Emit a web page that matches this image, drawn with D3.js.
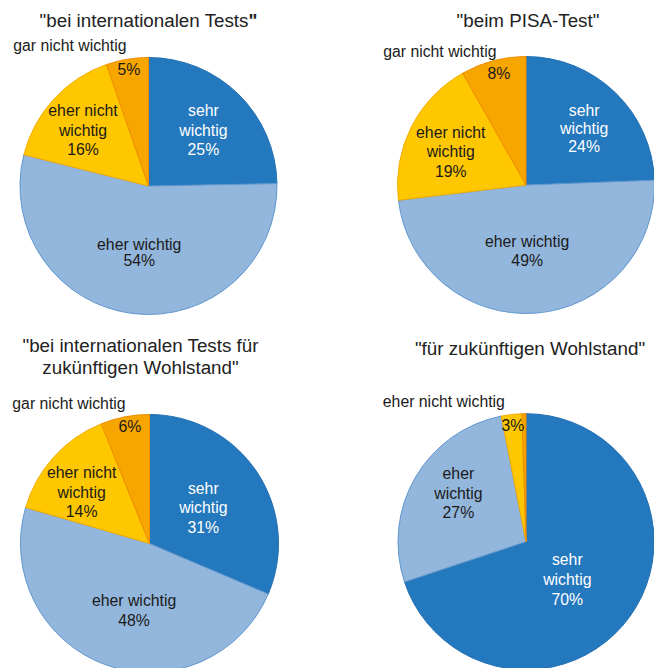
<!DOCTYPE html>
<html>
<head>
<meta charset="utf-8">
<script src="https://cdn.jsdelivr.net/npm/d3@7"></script>
<style>
  body { margin: 0; background: #fff; }
  svg { display: block; font-family: Arial, "Liberation Sans", sans-serif; }
</style>
</head>
<body>
<svg id="chart" width="654" height="668"></svg>
<script>
// ---- data ----
const categories = ["sehr wichtig", "eher wichtig", "eher nicht wichtig", "gar nicht wichtig"];
const titles = [
  ["\"bei internationalen Tests\""],
  ["\"beim PISA-Test\""],
  ["\"bei internationalen Tests für", "zukünftigen Wohlstand\""],
  ["\"für zukünftigen Wohlstand\""]
];
const valuesInternational = [24.7, 54.2, 15.8, 5.3];
const valuesPisa = [24.4, 48.7, 18.7, 8.2];
const valuesInternationalWohlstand = [31.4, 48.1, 14.4, 6.1];
const valuesWohlstand = [69.9, 27.0, 2.6, 0.5];
const percentLabels1 = ["25%", "54%", "16%", "5%"];
const percentLabels2 = ["24%", "49%", "19%", "8%"];
const percentLabels3 = ["31%", "48%", "14%", "6%"];
const percentLabels4 = ["70%", "27%", "3%", null];

// ---- style / layout ----
const fills = ["#2478bd", "#93b6dc", "#ffc700", "#f7a600"];
const strokes = ["#2470b3", "#5f97cf", "#f3ac00", "#ef8c00"];
const textColors = ["#ffffff", "#1a1a1a", "#1a1a1a", "#1a1a1a"];

const layouts = [
  { cx: 148.5, cy: 186, r: 128.5, title: [148.5, 27], lh: [19.5, 16, 19.5, 19.5],
    label: [[0.61, 0], [0.52, 1.5], [0.67, -2], [0.92, 0]],
    lines: [["sehr", "wichtig"], ["eher wichtig"], ["eher nicht", "wichtig"], []],
    outside: { idx: 3, text: "gar nicht wichtig", dx: -59, dy: -24 } },
  { cx: 526, cy: 185, r: 128.5, title: [528, 27], lh: [18, 19, 19.5, 19.5],
    label: [[0.63, 2], [0.51, 3.5], [0.64, -3], [0.89, 1]],
    lines: [["sehr", "wichtig"], ["eher wichtig"], ["eher nicht", "wichtig"], []],
    outside: { idx: 3, text: "gar nicht wichtig", dx: -59, dy: -22 } },
  { cx: 149.5, cy: 543.5, r: 129, title: [140.5, 352], lh: [19.5, 20, 19.5, 19.5],
    label: [[0.50, 0], [0.53, -6.6], [0.66, -5], [0.92, 1.5]],
    lines: [["sehr", "wichtig"], ["eher wichtig"], ["eher nicht", "wichtig"], []],
    outside: { idx: 3, text: "gar nicht wichtig", dx: -61, dy: -23 } },
  { cx: 526, cy: 541.7, r: 128, title: [530, 355], lh: [20, 19.5, 19.5, 19.5],
    label: [[0.44, 7], [0.65, 5.4], [0.91, 0], null],
    lines: [["sehr", "wichtig"], ["eher", "wichtig"], [], []],
    outside: { idx: 2, text: "eher nicht wichtig", dx: -69, dy: -24 } }
];

const charts = [
  { values: valuesInternational, pct: percentLabels1 },
  { values: valuesPisa, pct: percentLabels2 },
  { values: valuesInternationalWohlstand, pct: percentLabels3 },
  { values: valuesWohlstand, pct: percentLabels4 }
];

const svg = d3.select("#chart");
const labelSize = 15.8, titleSize = 18.8, capH = 11;

const pie = d3.pie().sort(null).value(d => d.value).startAngle(0).endAngle(2 * Math.PI);

charts.forEach((c, ci) => {
  const L = layouts[ci];
  const g = svg.append("g").attr("transform", `translate(${L.cx},${L.cy})`);
  const data = c.values.map((v, i) => ({ value: v, i, cat: categories[i] }));
  const arcs = pie(data);
  const arc = d3.arc().innerRadius(0).outerRadius(L.r);

  g.selectAll("path.slice").data(arcs).join("path")
    .attr("class", "slice")
    .attr("d", arc)
    .attr("fill", d => fills[d.data.i])
    .attr("stroke", d => strokes[d.data.i])
    .attr("stroke-width", 1)
    .attr("stroke-linejoin", "round");

  // titles
  const t = svg.append("text")
    .attr("x", L.title[0]).attr("y", L.title[1])
    .attr("text-anchor", "middle")
    .attr("font-size", titleSize)
    .attr("fill", "#222");
  titles[ci].forEach((line, li) => {
    const ts = t.append("tspan").attr("x", L.title[0]).attr("dy", li === 0 ? 0 : 22);
    if (ci === 0 && line.endsWith("\"")) {
      ts.text(line.slice(0, -1));
      ts.append("tspan").attr("font-weight", "bold").text("\"");
    } else {
      ts.text(line);
    }
  });

  // labels
  arcs.forEach(a => {
    const i = a.data.i;
    const lay = L.label[i];
    if (!lay || !c.pct[i]) return;
    const lineH = L.lh[i];
    const mid = (a.startAngle + a.endAngle) / 2 + lay[1] * Math.PI / 180;
    const rr = lay[0] * L.r;
    const px = Math.sin(mid) * rr, py = -Math.cos(mid) * rr;
    const lines = L.lines[i].concat([c.pct[i]]);
    const n = lines.length;
    const firstBase = py - (n - 1) * lineH / 2 + capH / 2;
    const txt = g.append("text")
      .attr("text-anchor", "middle")
      .attr("font-size", labelSize)
      .attr("fill", textColors[i]);
    lines.forEach((ln, li) => {
      txt.append("tspan").attr("x", px).attr("y", firstBase + li * lineH).text(ln);
    });
    if (L.outside && L.outside.idx === i) {
      g.append("text")
        .attr("x", px + L.outside.dx)
        .attr("y", firstBase + L.outside.dy)
        .attr("text-anchor", "middle")
        .attr("font-size", labelSize)
        .attr("fill", "#1a1a1a")
        .text(L.outside.text);
    }
  });
});
</script>
</body>
</html>
